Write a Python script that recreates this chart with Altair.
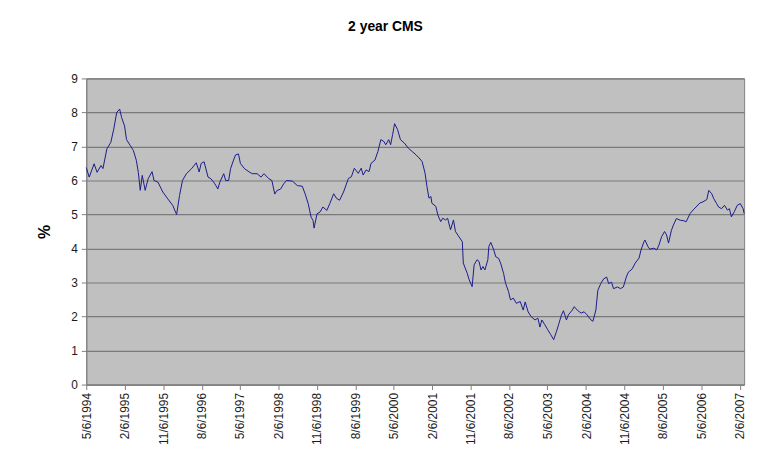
import altair as alt
import pandas as pd
import numpy as np

TITLE = "2 year CMS"
Y_TITLE = "%"
START = "1994-05-06"

# weekly observations: week offset from START and 2y CMS rate (%)
WEEKS = [0,3,8,11,15,17,21,25,28,31,34,36,39,41,45,48,51,53,55,57,60,63,67,69,73,78,83,88,92,95,98,102,107,112,
         115,117,120,124,127,131,134,136,140,142,145,147,150,152,155,157,161,166,169,174,178,181,186,189,192,194,198,201,204,210,215,220,223,
         226,229,231,232,235,238,241,245,248,252,255,258,262,267,270,273,277,280,282,285,288,290,294,297,300,303,305,308,310,312,314,317,320,324,328,332,336,
         339,342,345,347,349,351,352,356,358,361,363,366,368,371,374,376,379,383,384,388,390,393,395,398,400,402,404,406,409,410,412,415,417,420,422,425,427,430,432,435,438,442,
         445,447,450,453,457,460,462,464,467,470,473,476,479,481,484,486,489,491,495,497,500,504,507,510,514,516,519,521,524,527,530,532,535,537,541,544,547,550,552,556,
         559,563,565,568,569,572,574,578,581,583,586,589,591,593,596,598,601,605,608,611,615,618,621,625,628,632,634,637,639,642,644,647,650,653,655,657,660,663,666,669,670]

RATES = [6.38,6.10,6.49,6.24,6.44,6.35,6.93,7.12,7.51,8.00,8.10,7.85,7.60,7.20,7.02,6.88,6.59,6.24,5.71,6.15,5.71,6.05,6.26,6.00,5.95,5.66,5.46,5.27,5.00,5.56,6.00,6.20,6.34,6.52,
         6.25,6.50,6.55,6.10,6.05,5.90,5.75,5.95,6.20,6.00,6.00,6.35,6.60,6.75,6.78,6.50,6.35,6.25,6.20,6.20,6.10,6.20,6.05,6.00,5.60,5.70,5.75,5.90,6.00,5.98,5.85,5.83,5.60,
         5.32,4.92,4.82,4.60,5.02,5.07,5.22,5.12,5.32,5.61,5.47,5.42,5.66,6.06,6.11,6.36,6.21,6.36,6.16,6.31,6.26,6.50,6.60,6.85,7.20,7.15,7.05,7.20,7.05,7.35,7.67,7.50,7.20,7.10,6.95,6.85,6.75,
         6.66,6.56,6.22,5.82,5.48,5.53,5.33,5.24,4.99,4.79,4.89,4.84,4.89,4.55,4.84,4.50,4.37,4.20,3.57,3.27,3.08,2.88,3.52,3.67,3.62,3.37,3.47,3.37,3.67,4.06,4.18,3.96,3.76,3.71,3.57,3.27,2.98,2.74,2.49,2.54,2.39,2.44,
         2.19,2.43,2.14,2.00,1.90,1.95,1.69,1.90,1.76,1.61,1.47,1.32,1.57,1.76,2.05,2.17,1.90,2.05,2.19,2.29,2.19,2.10,2.14,2.05,1.90,1.86,2.19,2.77,2.97,3.11,3.16,2.97,3.01,2.82,2.87,2.82,2.87,3.16,3.30,3.40,
         3.57,3.72,3.96,4.20,4.25,4.06,3.98,4.01,3.96,4.08,4.35,4.50,4.40,4.16,4.54,4.69,4.88,4.83,4.82,4.79,5.03,5.13,5.22,5.34,5.37,5.44,5.71,5.61,5.47,5.32,5.22,5.17,5.27,5.13,5.17,4.93,5.08,5.27,5.32,5.17,5.03]

assert len(WEEKS) == len(RATES)

TICK_DATES = [(1994,5),(1995,2),(1995,11),(1996,8),(1997,5),(1998,2),(1998,11),(1999,8),(2000,5),
              (2001,2),(2001,11),(2002,8),(2003,5),(2004,2),(2004,11),(2005,8),(2006,5),(2007,2)]
Y_TICKS = list(range(0, 10))

dates = pd.Timestamp(START) + pd.to_timedelta(np.array(WEEKS) * 7, unit="D")
df = pd.DataFrame({"date": dates.strftime("%Y-%m-%d"), "rate": RATES})

x_axis = alt.Axis(
    values=[alt.DateTime(year=y, month=m, date=6, utc=True) for y, m in TICK_DATES],
    labelExpr="utcFormat(datum.value, '%-m/%-d/%Y')",
    labelAngle=270, labelFontSize=12, labelColor="#1a1a1a", labelFont="Liberation Sans",
    labelPadding=3, tickSize=5, tickColor="#808080", domainColor="#808080",
    grid=False, title=None, labelOverlap=False, labelFlush=False,
)
y_axis = alt.Axis(
    values=Y_TICKS, labelFontSize=12, labelColor="#1a1a1a", labelFont="Liberation Sans",
    tickSize=5, tickColor="#808080", domainColor="#808080", labelPadding=4,
    grid=True, gridColor="#7a7a7a", gridWidth=1.2,
    title=Y_TITLE, titleFontSize=16, titleFont="Liberation Sans", titleFontWeight="bold",
    titleColor="#000000", titlePadding=18,
)

chart = alt.Chart(df).mark_line(color="#1a1a8c", strokeWidth=1).encode(
    x=alt.X("date:T", axis=x_axis,
            scale=alt.Scale(type="utc", domain=[alt.DateTime(year=1994, month=5, date=6, utc=True),
                                                alt.DateTime(year=2007, month=3, date=9, utc=True)])),
    y=alt.Y("rate:Q", axis=y_axis, scale=alt.Scale(domain=[0, 9], nice=False, zero=True)),
).properties(
    width=664, height=309,
    title=alt.TitleParams(TITLE, fontSize=14, font="Liberation Sans", fontWeight="bold",
                          color="#000000", anchor="middle", dx=-30, offset=39),
    autosize=alt.AutoSizeParams(type="none"),
    padding={"left": 79, "top": 69, "right": 14, "bottom": 70},
    background="#FFFFFF",
).configure_view(
    fill="#C0C0C0", stroke="#808080", strokeWidth=1,
)

chart.save("out.html", embed_options={"renderer": "svg", "actions": False})
